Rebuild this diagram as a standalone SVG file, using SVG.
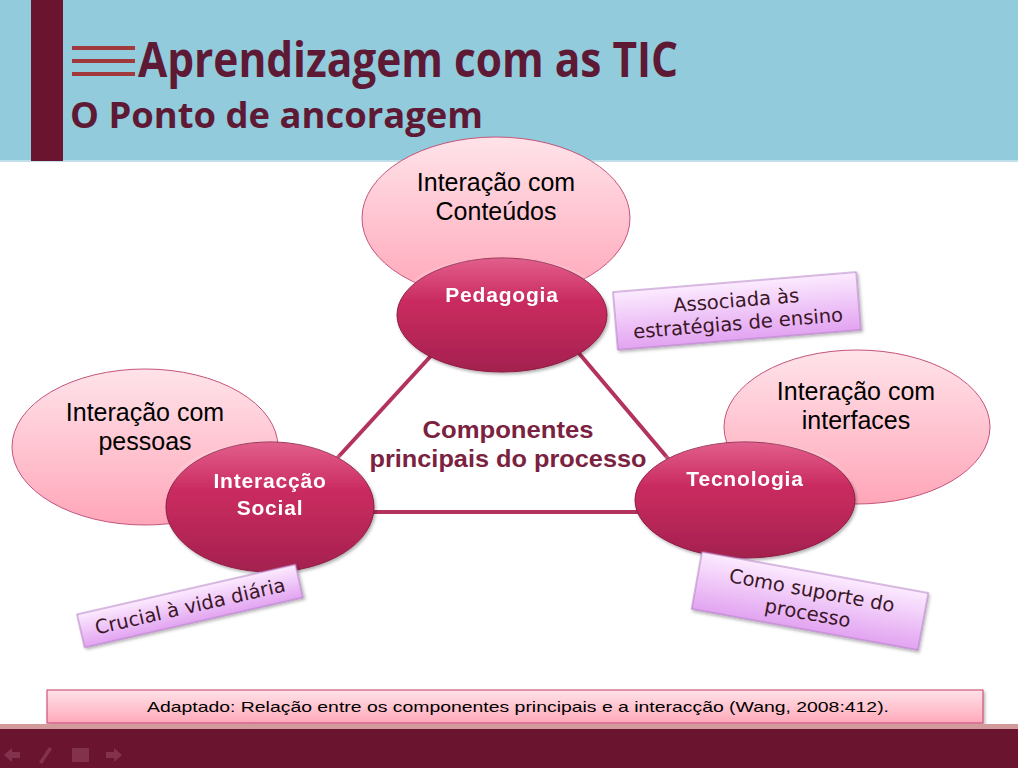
<svg xmlns="http://www.w3.org/2000/svg" width="1018" height="768" viewBox="0 0 1018 768">
<defs>
<linearGradient id="gPink" x1="0" y1="0" x2="0" y2="1">
<stop offset="0" stop-color="#FFE3E9"/><stop offset="1" stop-color="#FFA6B9"/>
</linearGradient>
<linearGradient id="gDark" x1="0" y1="0" x2="0" y2="1">
<stop offset="0" stop-color="#D9326B"/><stop offset="0.5" stop-color="#C42A5C"/><stop offset="1" stop-color="#A3204F"/>
</linearGradient>
<linearGradient id="gGloss" x1="0" y1="0" x2="0" y2="1">
<stop offset="0" stop-color="#FFFFFF" stop-opacity="0.22"/><stop offset="0.5" stop-color="#FFFFFF" stop-opacity="0"/>
</linearGradient>
<linearGradient id="gNote" x1="0" y1="0" x2="0" y2="1">
<stop offset="0" stop-color="#FCEBFF"/><stop offset="1" stop-color="#E2A3F1"/>
</linearGradient>
<linearGradient id="gCap" x1="0" y1="0" x2="0" y2="1">
<stop offset="0" stop-color="#FFE2E8"/><stop offset="1" stop-color="#FFA9BA"/>
</linearGradient>
<filter id="sh" x="-10%" y="-10%" width="130%" height="130%">
<feDropShadow dx="1.5" dy="2" stdDeviation="1.5" flood-color="#000" flood-opacity="0.3"/>
</filter>
</defs>
<style>
.pink{fill:url(#gPink);stroke:#C4547C;stroke-width:1}
.dark{fill:url(#gDark);stroke:#8E1B45;stroke-width:1}
.gloss{fill:url(#gGloss)}
.note{fill:url(#gNote);stroke:#B27BC4;stroke-width:1}
.pt{font-family:"Liberation Sans",Arial,sans-serif;font-size:25px;fill:#000;text-anchor:middle}
.dt{font-family:"Liberation Sans",Arial,sans-serif;font-size:21px;font-weight:bold;fill:#fff;text-anchor:middle;letter-spacing:0.8px}
.nt{font-family:"DejaVu Sans",Verdana,sans-serif;font-size:19.5px;fill:#3A1626;text-anchor:middle}
.conn{stroke:#B3325F;stroke-width:4;fill:none}
</style>
<rect x="0" y="0" width="1018" height="768" fill="#FFFFFF"/>
<g id="header">
<rect x="0" y="0" width="1018" height="161" fill="#92CBDC"/>
<rect x="0" y="160" width="1018" height="2" fill="#BFE0EA"/>
<rect x="31" y="0" width="32" height="161" fill="#6A1430"/>
<rect x="72" y="46" width="63" height="4" fill="#A0383C"/>
<rect x="72" y="59" width="63" height="4" fill="#A0383C"/>
<rect x="72" y="72" width="63" height="4" fill="#A0383C"/>
<text x="138" y="77" font-family="'Open Sans','Noto Sans',sans-serif" font-weight="bold" font-size="48" fill="#5E1A35" textLength="540" lengthAdjust="spacingAndGlyphs">Aprendizagem com as TIC</text>
<text x="70" y="128" font-family="'Open Sans','Noto Sans',sans-serif" font-weight="bold" font-size="36" fill="#5E1A35" textLength="413" lengthAdjust="spacingAndGlyphs">O Ponto de ancoragem</text>
</g>
<g id="node-conteudos">
<ellipse class="pink" cx="496" cy="218" rx="134" ry="81"/>
<text class="pt" x="496" y="191">Interação com</text>
<text class="pt" x="496" y="220">Conteúdos</text>
</g>
<g id="node-pessoas">
<ellipse class="pink" cx="145" cy="447" rx="133" ry="78"/>
<text class="pt" x="145" y="421">Interação com</text>
<text class="pt" x="145" y="450">pessoas</text>
</g>
<g id="node-interfaces">
<ellipse class="pink" cx="857" cy="427" rx="133" ry="77"/>
<text class="pt" x="856" y="400">Interação com</text>
<text class="pt" x="856" y="429">interfaces</text>
</g>
<g id="connectors">
<line class="conn" x1="440" y1="346" x2="330" y2="466"/>
<line class="conn" x1="572" y1="345" x2="676" y2="468"/>
<line class="conn" x1="370" y1="512" x2="640" y2="512"/>
</g>
<g id="center-label">
<text x="508" y="438" font-family="'Liberation Sans',Arial,sans-serif" font-weight="bold" font-size="24" fill="#7A2240" text-anchor="middle" textLength="171" lengthAdjust="spacingAndGlyphs">Componentes</text>
<text x="508" y="467" font-family="'Liberation Sans',Arial,sans-serif" font-weight="bold" font-size="24" fill="#7A2240" text-anchor="middle" textLength="277" lengthAdjust="spacingAndGlyphs">principais do processo</text>
</g>
<g id="node-pedagogia" filter="url(#sh)">
<ellipse class="dark" cx="502" cy="315" rx="105" ry="57"/>
<ellipse class="gloss" cx="502" cy="300" rx="102" ry="42"/>
<text class="dt" x="502" y="302">Pedagogia</text>
</g>
<g id="node-social" filter="url(#sh)">
<ellipse class="dark" cx="270" cy="507" rx="104" ry="65"/>
<ellipse class="gloss" cx="270" cy="490" rx="101" ry="48"/>
<text class="dt" x="270" y="488">Interacção</text>
<text class="dt" x="270" y="515">Social</text>
</g>
<g id="node-tecnologia" filter="url(#sh)">
<ellipse class="dark" cx="745" cy="500" rx="110" ry="58"/>
<ellipse class="gloss" cx="745" cy="485" rx="107" ry="43"/>
<text class="dt" x="745" y="486">Tecnologia</text>
</g>
<g id="note-pedagogia" transform="translate(737,311) rotate(-4.7)">
<rect class="note" x="-122" y="-29" width="244" height="58" filter="url(#sh)"/>
<text class="nt" x="0" y="-4">Associada às</text>
<text class="nt" x="0" y="19">estratégias de ensino</text>
</g>
<g id="note-social" transform="translate(190,606) rotate(-12.9)">
<rect class="note" x="-112" y="-17" width="224" height="34" filter="url(#sh)"/>
<text class="nt" x="0" y="7">Crucial à vida diária</text>
</g>
<g id="note-tecnologia" transform="translate(810,601) rotate(10.3)">
<rect class="note" x="-115" y="-29" width="230" height="58" filter="url(#sh)"/>
<text class="nt" x="0" y="-4">Como suporte do</text>
<text class="nt" x="0" y="19">processo</text>
</g>
<g id="caption">
<rect x="47" y="690" width="936" height="33" fill="url(#gCap)" stroke="#C83A6A" stroke-width="1" filter="url(#sh)"/>
<text x="518" y="712" font-family="'Liberation Sans',Arial,sans-serif" font-size="15" fill="#000" text-anchor="middle" textLength="742" lengthAdjust="spacingAndGlyphs">Adaptado: Relação entre os componentes principais e a interacção (Wang, 2008:412).</text>
</g>
<g id="footer">
<rect x="0" y="724" width="1018" height="5" fill="#D39A9C"/>
<rect x="0" y="729" width="1018" height="39" fill="#6A1430"/>
<g fill="#8A3A55" opacity="0.8">
<polygon points="4,755 12,748 12,752 20,752 20,758 12,758 12,762"/>
<polygon points="39,762 49,747 52,749 42,764"/>
<rect x="72" y="748" width="17" height="14" rx="1"/>
<polygon points="122,755 114,748 114,752 106,752 106,758 114,758 114,762"/>
</g>
</g>
</svg>
